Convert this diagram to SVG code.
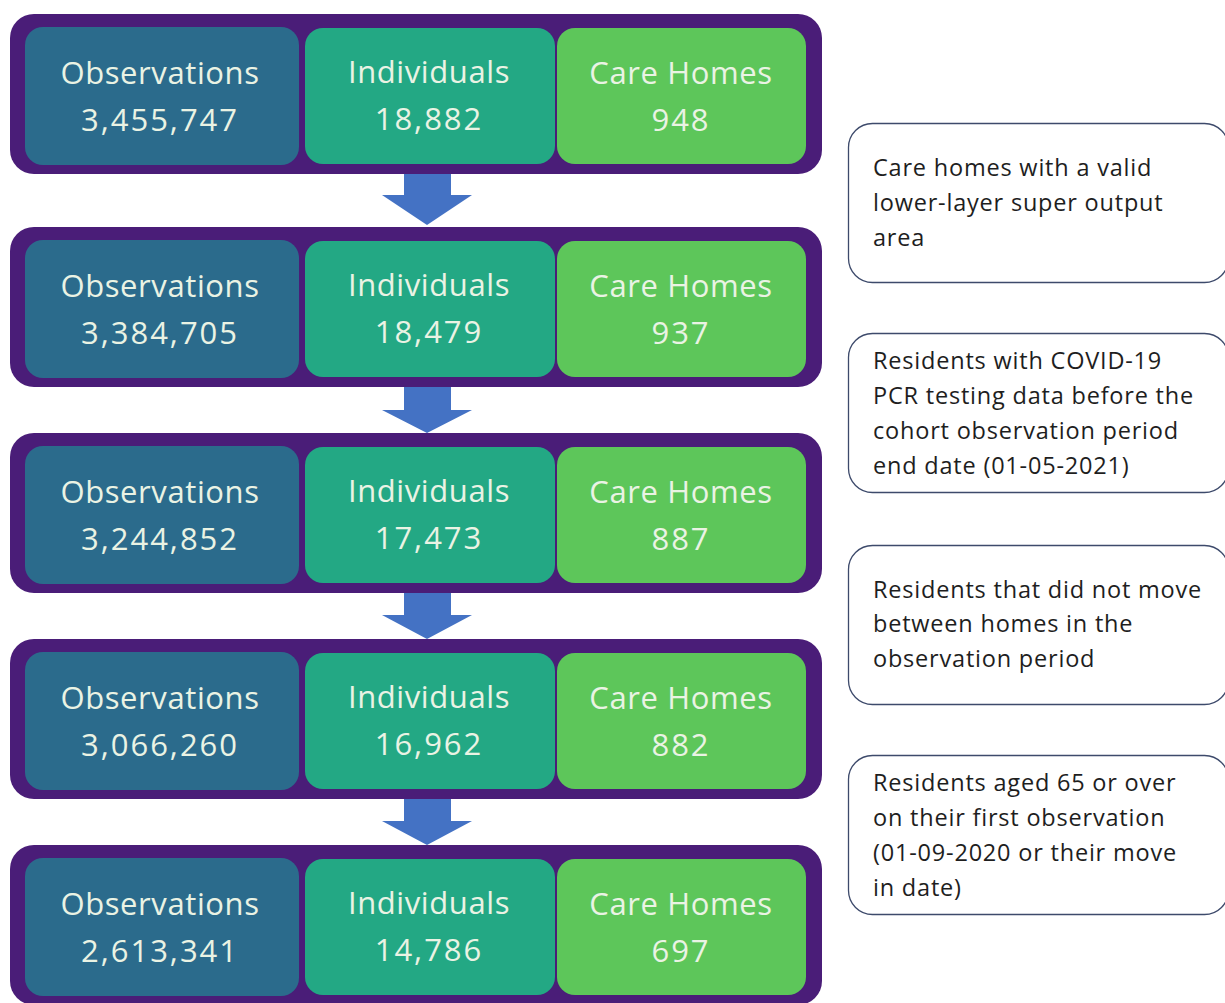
<svg xmlns="http://www.w3.org/2000/svg" width="1225" height="1003" viewBox="0 0 1225 1003">
<style>
.outer{fill:#4a1d78}
.obs{fill:#2b6b8c}
.ind{fill:#23a884}
.care{fill:#5dc65a}
.t{font-family:"Open Sans","Liberation Sans",sans-serif;font-size:31px;letter-spacing:0.6px;fill:#eaf3e4;text-anchor:middle}
.v{letter-spacing:2px}
.arrow{fill:#4472c4}
.note{fill:#ffffff;stroke:#3d4a6b;stroke-width:1.3}
.n{font-family:"Open Sans","Liberation Sans",sans-serif;font-size:23.5px;letter-spacing:0.8px;fill:#1e1e1e}
</style>
<rect width="1225" height="1003" fill="#ffffff"/>
<g id="connectors">
<polygon class="arrow" points="404,174 451,174 451,195 472,195 427,225 382,195 404,195"/>
<polygon class="arrow" points="404,387 451,387 451,410 472,410 427,433 382,410 404,410"/>
<polygon class="arrow" points="404,593 451,593 451,615 472,615 427,639 382,615 404,615"/>
<polygon class="arrow" points="404,799 451,799 451,821 472,821 427,845 382,821 404,821"/>
</g>
<g id="row1" transform="translate(0,14)">
<rect class="outer" x="10" y="0" width="812" height="160" rx="24"/>
<rect class="obs" x="25" y="13" width="274" height="138" rx="18"/>
<rect class="ind" x="305" y="14" width="250" height="136" rx="18"/>
<rect class="care" x="557" y="14" width="249" height="136" rx="18"/>
<text class="t" x="160" y="70">Observations</text><text class="t v" x="160" y="117">3,455,747</text>
<text class="t" x="429" y="69">Individuals</text><text class="t v" x="429" y="116">18,882</text>
<text class="t" x="681" y="70">Care Homes</text><text class="t v" x="681" y="117">948</text>
</g>
<g id="row2" transform="translate(0,227)">
<rect class="outer" x="10" y="0" width="812" height="160" rx="24"/>
<rect class="obs" x="25" y="13" width="274" height="138" rx="18"/>
<rect class="ind" x="305" y="14" width="250" height="136" rx="18"/>
<rect class="care" x="557" y="14" width="249" height="136" rx="18"/>
<text class="t" x="160" y="70">Observations</text><text class="t v" x="160" y="117">3,384,705</text>
<text class="t" x="429" y="69">Individuals</text><text class="t v" x="429" y="116">18,479</text>
<text class="t" x="681" y="70">Care Homes</text><text class="t v" x="681" y="117">937</text>
</g>
<g id="row3" transform="translate(0,433)">
<rect class="outer" x="10" y="0" width="812" height="160" rx="24"/>
<rect class="obs" x="25" y="13" width="274" height="138" rx="18"/>
<rect class="ind" x="305" y="14" width="250" height="136" rx="18"/>
<rect class="care" x="557" y="14" width="249" height="136" rx="18"/>
<text class="t" x="160" y="70">Observations</text><text class="t v" x="160" y="117">3,244,852</text>
<text class="t" x="429" y="69">Individuals</text><text class="t v" x="429" y="116">17,473</text>
<text class="t" x="681" y="70">Care Homes</text><text class="t v" x="681" y="117">887</text>
</g>
<g id="row4" transform="translate(0,639)">
<rect class="outer" x="10" y="0" width="812" height="160" rx="24"/>
<rect class="obs" x="25" y="13" width="274" height="138" rx="18"/>
<rect class="ind" x="305" y="14" width="250" height="136" rx="18"/>
<rect class="care" x="557" y="14" width="249" height="136" rx="18"/>
<text class="t" x="160" y="70">Observations</text><text class="t v" x="160" y="117">3,066,260</text>
<text class="t" x="429" y="69">Individuals</text><text class="t v" x="429" y="116">16,962</text>
<text class="t" x="681" y="70">Care Homes</text><text class="t v" x="681" y="117">882</text>
</g>
<g id="row5" transform="translate(0,845)">
<rect class="outer" x="10" y="0" width="812" height="160" rx="24"/>
<rect class="obs" x="25" y="13" width="274" height="138" rx="18"/>
<rect class="ind" x="305" y="14" width="250" height="136" rx="18"/>
<rect class="care" x="557" y="14" width="249" height="136" rx="18"/>
<text class="t" x="160" y="70">Observations</text><text class="t v" x="160" y="117">2,613,341</text>
<text class="t" x="429" y="69">Individuals</text><text class="t v" x="429" y="116">14,786</text>
<text class="t" x="681" y="70">Care Homes</text><text class="t v" x="681" y="117">697</text>
</g>
<g id="note1">
<rect class="note" x="848.5" y="123.5" width="380" height="159" rx="24"/>
<text class="n" x="873" y="176">Care homes with a valid</text>
<text class="n" x="873" y="211">lower-layer super output</text>
<text class="n" x="873" y="246">area</text>
</g>
<g id="note2">
<rect class="note" x="848.5" y="333.5" width="380" height="159" rx="24"/>
<text class="n" x="873" y="369">Residents with COVID-19</text>
<text class="n" x="873" y="404">PCR testing data before the</text>
<text class="n" x="873" y="439">cohort  observation period</text>
<text class="n" x="873" y="474">end date (01-05-2021)</text>
</g>
<g id="note3">
<rect class="note" x="848.5" y="545.5" width="380" height="159" rx="24"/>
<text class="n" x="873" y="598">Residents that did not move</text>
<text class="n" x="873" y="632">between homes in the</text>
<text class="n" x="873" y="667">observation period</text>
</g>
<g id="note4">
<rect class="note" x="848.5" y="755.5" width="380" height="159" rx="24"/>
<text class="n" x="873" y="791">Residents aged 65 or over</text>
<text class="n" x="873" y="826">on their first observation</text>
<text class="n" x="873" y="861">(01-09-2020 or their move</text>
<text class="n" x="873" y="896">in date)</text>
</g>
</svg>
